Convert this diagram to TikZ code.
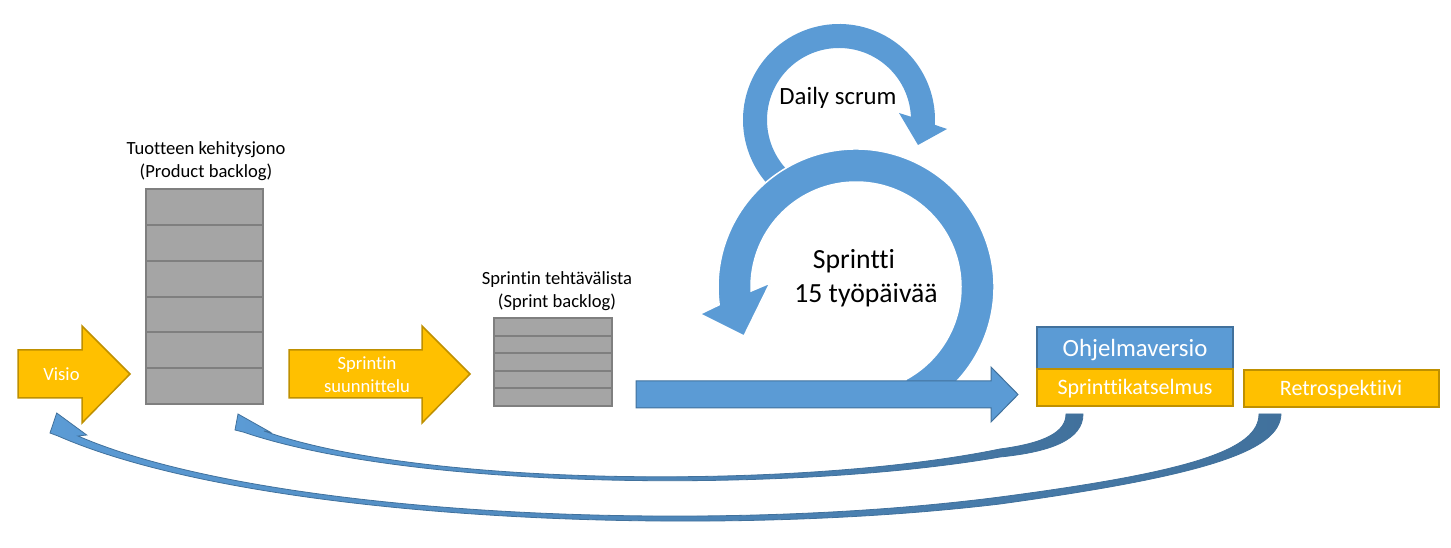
\documentclass[tikz,border=0pt]{standalone}
\usepackage{fontspec}
\setmainfont{Carlito}[Ligatures=NoCommon]
\definecolor{yel}{HTML}{FFC000}
\definecolor{yelb}{HTML}{BF9000}
\definecolor{blu}{HTML}{5B9BD5}
\definecolor{blub}{HTML}{41719C}
\definecolor{gr}{HTML}{A5A5A5}
\definecolor{grb}{HTML}{7F7F7F}
\begin{document}
\begin{tikzpicture}[x=1pt,y=1pt,
  yarrow/.style={fill=yel,draw=yelb,line width=1.5pt,line join=miter},
  bshape/.style={fill=blu,draw=blub,line width=1pt},
  ringshape/.style={fill=blu,draw=white,line width=1.5pt},
  retarrow/.style={left color=blu,right color=blub,draw=blub,line width=0.8pt},
  gbox/.style={fill=gr,draw=grb,line width=1.8pt},
  gline/.style={draw=grb,line width=1.8pt},
  ybox/.style={fill=yel,draw=yelb,line width=1.5pt},
  bbox/.style={fill=blu,draw=blub,line width=1.5pt},
  small/.style={font=\fontsize{18.6}{23}\selectfont,align=center,inner sep=0pt,anchor=base},
  wsmall/.style={small,text=white},
  mid/.style={font=\fontsize{22}{26}\selectfont,inner sep=0pt,anchor=base,text=white},
  big/.style={font=\fontsize{24.8}{30}\selectfont,inner sep=0pt,anchor=base},
  huge/.style={font=\fontsize{27.7}{34}\selectfont,inner sep=0pt,anchor=base}]
\useasboundingbox (0,0) rectangle (1451,548);

% Product backlog
\draw[gbox] (146,144) rectangle (263,359);
\foreach \yy in {323,287,251,216,180}{\draw[gline] (146,\yy) -- (263,\yy);}
\node[small] (pbt) at (206,370) {Tuotteen kehitysjono\\(Product backlog)};

% Sprint backlog
\draw[gbox] (494,142) rectangle (612,230);
\foreach \yy in {212,195,177,160}{\draw[gline] (494,\yy) -- (612,\yy);}
\node[small] (sbt) at (557,240) {Sprintin tehtävälista\\(Sprint backlog)};

% Yellow arrows
\draw[yarrow] (18,198) -- (82,198) -- (82,222) -- (130,174) -- (82,125) -- (82,150) -- (18,150) -- cycle;
\node[wsmall] (visio) at (61.5,167.3) {Visio};
\draw[yarrow] (289,198) -- (422,198) -- (422,222) -- (470,174) -- (422,125) -- (422,150) -- (289,150) -- cycle;
\node[wsmall] (suun) at (367,155) {Sprintin\\suunnittelu};

% Return arrows
\draw[retarrow] (1066,134) -- (1083,134) .. controls (1083,108) and (1050,96) .. (1000,91)
  .. controls (800,56) and (420,56) .. (243,116) -- (235,118) -- (238,134) -- (270,116) -- (264,117)
  .. controls (420,61) and (800,58) .. (1000,99) .. controls (1045,105) and (1066,116) .. (1066,134) -- cycle;
\draw[retarrow] (1259,134) -- (1281,134) .. controls (1280,98) and (1210,73) .. (1000,44)
  .. controls (700,8) and (250,28) .. (58,112) -- (50,115) -- (56.7,135) -- (86.7,113) -- (78,112)
  .. controls (260,33) and (700,12) .. (1000,51) .. controls (1190,76) and (1259,98) .. (1259,134) -- cycle;

% Daily scrum ring
\fill[blu] ([shift={(839,428)}]235:96) arc[start angle=235,end angle=-2.9,radius=96pt]
  -- (947,419) -- (918,403) -- (899,435) -- ([shift={(839,428)}]2.6:72)
  arc[start angle=2.6,end angle=235,radius=72pt] -- cycle;
\node[big] (daily) at (838,443) {Daily scrum};

% Sprint ring
\draw[ringshape] ([shift={(856,261)}]-62:138) arc[start angle=-62,end angle=187.4,radius=138pt]
  -- (700,234) -- (744,212) -- (770,265) -- ([shift={(856,261)}]182.2:105)
  arc[start angle=182.2,end angle=-62,radius=105pt] -- cycle;
\node[huge] (spr) at (854,279) {Sprintti};
\node[huge] (days) at (866,245) {15 työpäivää};

% Big arrow
\draw[bshape] (636,167) -- (991,167) -- (991,181) -- (1018,153.5) -- (991,126) -- (991,140) -- (636,140) -- cycle;

% Result boxes
\draw[bbox] (1037,179) rectangle (1233,221);
\node[big,text=white] (ohj) at (1135,191.3) {Ohjelmaversio};
\draw[ybox] (1037,142) rectangle (1233,179);
\node[mid] (kats) at (1135,153) {Sprinttikatselmus};
\draw[ybox] (1244,141) rectangle (1439,178);
\node[mid] (retro) at (1341,152) {Retrospektiivi};
\end{tikzpicture}
\end{document}
